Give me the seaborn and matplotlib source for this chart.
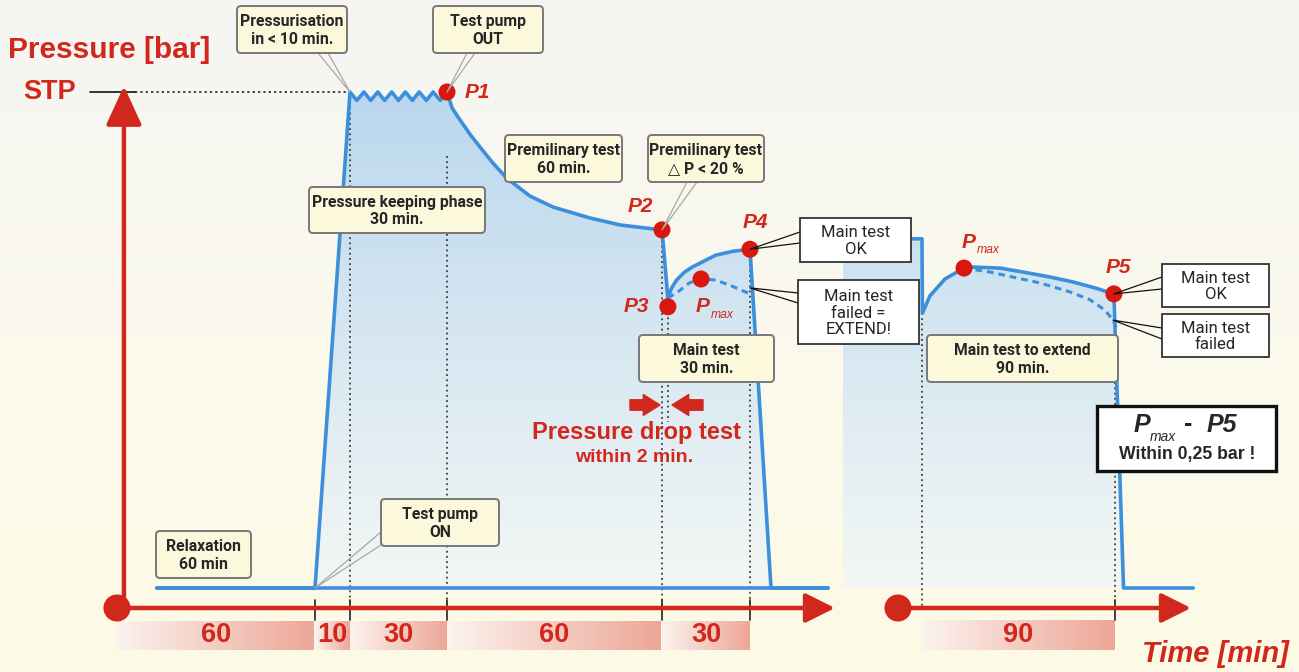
import numpy as np
import matplotlib.pyplot as plt
import seaborn as sns
from matplotlib.patches import FancyBboxPatch, Polygon, Rectangle
from matplotlib.colors import LinearSegmentedColormap

# ---- data: time in minutes, pressure relative to STP (1.0 = STP) ----
phase_minutes = [60, 10, 30, 60, 30]
phase_labels = ["60", "10", "30", "60", "30"]
ext_minutes = [90]
ext_labels = ["90"]

relax_t = [12, 60]
relax_p = [0.0, 0.0]
rise_t = [60, 70]
rise_p = [0.0, 1.0]
keep_t = [70, 72.1, 74.3, 76.4, 78.6, 80.7, 82.9, 85.0, 87.1, 89.3, 91.4, 93.6, 95.7, 97.9, 100]
keep_p = [1.0, 0.983, 1.0, 0.983, 1.0, 0.983, 1.0, 0.983, 1.0, 0.983, 1.0, 0.983, 1.0, 0.983, 1.0]
pre_t = [100, 101.4, 103.6, 106.4, 109.2, 112.8, 116.7, 123.2, 129.6, 139.9, 148.3, 154, 160]
pre_p = [1.0, 0.968, 0.944, 0.915, 0.889, 0.857, 0.826, 0.790, 0.768, 0.746, 0.732, 0.727, 0.722]
drop_t = [160, 162]
drop_p = [0.722, 0.585]
main_t = [162, 163.3, 165, 167.7, 170.3, 174.3, 178.3, 184.3, 190]
main_p = [0.585, 0.605, 0.621, 0.637, 0.647, 0.659, 0.671, 0.679, 0.683]
fail_t = [162, 165, 169.3, 173.3, 178.3, 183.7, 190]
fail_p = [0.585, 0.595, 0.615, 0.623, 0.621, 0.609, 0.593]
release_t = [190, 197, 216]
release_p = [0.683, 0.0, 0.0]

# extension: minutes from start of the extended main test
ext_t = [-6, 0, 0.2, 3.7, 10.7, 19.6, 23.8, 36.4, 47.1, 59.7, 70.4, 80.7, 89.5, 94, 126.5]
ext_p = [0.704, 0.704, 0.554, 0.589, 0.623, 0.645, 0.647, 0.645, 0.637, 0.627, 0.617, 0.605, 0.593, 0.0, 0.0]
ext_fail_t = [19.6, 31.7, 55.0, 69.0, 78.4, 85.4, 89.1, 91.0]
ext_fail_p = [0.645, 0.637, 0.615, 0.597, 0.581, 0.560, 0.540, 0.520]
ext_hold_t = -36.8

point_names = ["P1", "P2", "P3", "P4", "Pmax"]
point_t = [100, 160, 162, 190, 173.3]
point_p = [1.0, 0.722, 0.567, 0.683, 0.623]
ext_point_names = ["Pmax", "P5"]
ext_point_t = [19.6, 89.5]
ext_point_p = [0.645, 0.593]

# ---- layout ----
W, H = 1299, 672
# the sketch is not drawn to scale: piecewise time scale through the phase ticks
T_KNOTS = [-60, 0, 60, 70, 100, 160, 190, 420]
PX_KNOTS = [117 - 60 * 3.3, 117, 315, 350, 447, 662, 750, 750 + 230 * 3.0]
E0, ES = 922, 2.144     # pixel of t=0 and px per minute for the extension
Y0, YS = 588, 496       # pixel row of p=0 and px per STP
AXIS_P = (Y0 - 608) / YS
RED = '#d2271c'
DOT = '#d8170f'
BLUE = '#3b8fdb'
SANS = ['Liberation Sans', 'DejaVu Sans']
BOXFONT = ['Roboto', 'Liberation Sans', 'DejaVu Sans']

sns.set_style("white")
plt.rcParams['font.family'] = SANS

fig = plt.figure(figsize=(W / 100, H / 100), dpi=100)

bg = fig.add_axes([0, 0, 1, 1])
bg.axis('off')
vramp = np.linspace(0, 1, 256).reshape(-1, 1)
hramp = np.linspace(0, 1, 256).reshape(1, -1)
bg.imshow(vramp, cmap=LinearSegmentedColormap.from_list('bg', ['#f5f5f3', '#fbf9ec', '#fdfae5']),
          aspect='auto', extent=[0, 1, 0, 1])


def make_ax():
    a = fig.add_axes([0, 0, 1, 1])
    a.set_ylim((Y0 - H) / YS, Y0 / YS)
    a.axis('off')
    a.patch.set_alpha(0)
    return a


def t_fwd(t):
    return np.interp(t, T_KNOTS, PX_KNOTS)


def t_inv(x):
    return np.interp(x, PX_KNOTS, T_KNOTS)


ax = make_ax()
ax.set_xscale('function', functions=(t_fwd, t_inv))
ax.set_xlim(t_inv(0), t_inv(W))
ax2 = make_ax()
ax2.set_xlim(-E0 / ES, (W - E0) / ES)
ov = fig.add_axes([0, 0, 1, 1])
ov.set_xlim(0, W)
ov.set_ylim(H, 0)
ov.axis('off')
ov.patch.set_alpha(0)


def px(a, x, y):
    return ov.transData.inverted().transform(a.transData.transform((x, y)))


fill_cmap = LinearSegmentedColormap.from_list('fill', ['#bad7ee', '#f3f7f4'])
band_cmap = LinearSegmentedColormap.from_list('band', ['#fbf3ee', '#eda697'])


def blue_fill(a, xs, ys):
    poly = Polygon(np.column_stack([xs, ys]), closed=True, fc='none', ec='none')
    a.add_patch(poly)
    im = a.imshow(vramp, cmap=fill_cmap, aspect='auto', extent=[min(xs), max(xs), 0, 1.0],
                  zorder=1, interpolation='bilinear')
    im.set_clip_path(poly)


def dotted(a, t, top, bottom=AXIS_P):
    a.plot([t, t], [top, bottom], color='#222222', lw=1.1, ls=(0, (1.2, 2.2)), zorder=2)


def time_axis(a, start, end, bounds, labels):
    a.annotate('', xy=(end, AXIS_P), xytext=(start, AXIS_P),
               arrowprops=dict(arrowstyle='-|>,head_length=0.9,head_width=0.45', lw=3.2,
                               color=RED, mutation_scale=20, shrinkA=0, shrinkB=0), zorder=4)
    sns.scatterplot(x=[start], y=[AXIS_P], s=380, color=RED, edgecolor='none', ax=a, zorder=5)
    lo, hi = (Y0 - 650) / YS, (Y0 - 620) / YS
    for i, lab in enumerate(labels):
        a.imshow(hramp, cmap=band_cmap, aspect='auto', extent=[bounds[i], bounds[i + 1], lo, hi],
                 zorder=1, interpolation='bilinear')
        a.text((bounds[i] + bounds[i + 1]) / 2, (lo + hi) / 2, lab, color=RED, fontsize=19.5,
               fontweight='bold', ha='center', va='center', zorder=3)
    for b in bounds[1:]:
        a.plot([b, b], [(Y0 - 600) / YS, (Y0 - 620) / YS], color='#333333', lw=1.3, zorder=3)


# ---- first part ----
bounds = np.concatenate([[0], np.cumsum(phase_minutes)])
left_t = relax_t + rise_t[1:] + keep_t[1:] + pre_t[1:] + drop_t[1:] + main_t[1:] + release_t[1:]
left_p = relax_p + rise_p[1:] + keep_p[1:] + pre_p[1:] + drop_p[1:] + main_p[1:] + release_p[1:]
blue_fill(ax, left_t[1:-1], left_p[1:-1])
sns.lineplot(x=[relax_t[0], release_t[-1]], y=[0, 0], color=BLUE, lw=2.6, ax=ax, zorder=3)
sns.lineplot(x=left_t, y=left_p, sort=False, estimator=None, color=BLUE, lw=2.6, ax=ax, zorder=3)
sns.lineplot(x=fail_t, y=fail_p, sort=False, estimator=None, color=BLUE, lw=2.2,
             linestyle=(0, (2.2, 1.6)), ax=ax, zorder=3)

dotted(ax, rise_t[1], 0.99)
dotted(ax, pre_t[0], 0.87)
dotted(ax, drop_t[0], drop_p[0])
dotted(ax, drop_t[1], point_p[2], (Y0 - 422) / YS)
dotted(ax, main_t[-1], main_p[-1])

# y axis and STP
ax.annotate('', xy=(2.1, (Y0 - 86) / YS), xytext=(2.1, AXIS_P),
            arrowprops=dict(arrowstyle='-|>,head_length=1.2,head_width=0.55', lw=3.2,
                            color=RED, mutation_scale=20, shrinkA=0, shrinkB=0), zorder=4)
ax.plot([-8.2, 5.5], [1.0, 1.0], color='#111111', lw=1.2, zorder=3)
ax.plot([5.5, rise_t[1]], [1.0, 1.0], color='#111111', lw=1.1, ls=(0, (1.5, 2)), zorder=2)

time_axis(ax, 0, t_inv(835), bounds, phase_labels)
sns.scatterplot(x=point_t, y=point_p, s=150, color=DOT, edgecolor='none', ax=ax, zorder=6)

# ---- extension ----
ebounds = np.concatenate([[0], np.cumsum(ext_minutes)])
blue_fill(ax2, [ext_hold_t] + ext_t[:14] + [ext_hold_t], [ext_p[0]] + ext_p[:14] + [0.0])
sns.lineplot(x=ext_t, y=ext_p, sort=False, estimator=None, color=BLUE, lw=2.6, ax=ax2, zorder=3)
sns.lineplot(x=ext_fail_t, y=ext_fail_p, sort=False, estimator=None, color=BLUE, lw=2.2,
             linestyle=(0, (2.2, 1.6)), ax=ax2, zorder=3)
dotted(ax2, ebounds[0], ext_p[2])
dotted(ax2, ebounds[1], ext_point_p[1])
time_axis(ax2, (898 - E0) / ES, (1191 - E0) / ES, ebounds, ext_labels)
sns.scatterplot(x=ext_point_t, y=ext_point_p, s=150, color=DOT, edgecolor='none', ax=ax2, zorder=6)


# ---- annotations (overlay in pixels) ----
def cream(x0, y0, x1, y1, text, fs=11.3):
    ov.add_patch(FancyBboxPatch((x0, y0), x1 - x0, y1 - y0, boxstyle='round,pad=0,rounding_size=4',
                                fc='#fbf8dc', ec='#777777', lw=1.4, zorder=6))
    ov.text((x0 + x1) / 2, (y0 + y1) / 2 + 1, text, ha='center', va='center', fontsize=fs,
            fontweight='bold', family=BOXFONT, linespacing=1.25, zorder=7)


def white(x0, y0, x1, y1, text, fs=12):
    ov.add_patch(Rectangle((x0, y0), x1 - x0, y1 - y0, fc='white', ec='#333333', lw=1.3, zorder=6))
    ov.text((x0 + x1) / 2, (y0 + y1) / 2 + 1, text, ha='center', va='center', fontsize=fs,
            family=BOXFONT, linespacing=1.1, zorder=7)


def wedge(p, a, b, color):
    ov.plot([a[0], p[0], b[0]], [a[1], p[1], b[1]], color=color, lw=0.9, zorder=5)


def plabel(p, dx, dy, text, fs=15):
    ov.text(p[0] + dx, p[1] + dy, text, color=RED, fontsize=fs, fontweight='bold',
            fontstyle='italic', ha='center', va='center', zorder=7)


def pmax(x, y, fs=15):
    ov.text(x, y, "P", color=RED, fontsize=fs, fontweight='bold', fontstyle='italic',
            ha='center', va='center', zorder=7)
    ov.text(x + 8, y + 8, "max", color=RED, fontsize=fs * 0.58, fontstyle='italic',
            ha='left', va='center', zorder=7)


P = [px(ax, t, p) for t, p in zip(point_t, point_p)]
EP = [px(ax2, t, p) for t, p in zip(ext_point_t, ext_point_p)]

wedge(px(ax, rise_t[1], 1.0), (318, 53), (328, 53), '#a8a8a8')
wedge(P[0], (467, 53), (475, 53), '#a8a8a8')
wedge(P[1], (687, 182), (697, 182), '#a8a8a8')
wedge(px(ax, rise_t[0], 0.0), (381, 532), (381, 545), '#a8a8a8')
wedge(P[3], (800, 232), (800, 243), '#111111')
wedge(px(ax, fail_t[-1], 0.605), (798, 293), (798, 303), '#111111')
wedge(EP[1], (1162, 277), (1162, 289), '#111111')
wedge(px(ax2, ext_fail_t[-2], ext_fail_p[-2]), (1162, 328), (1162, 339), '#111111')

cream(237, 6, 347, 53, "Pressurisation\nin < 10 min.")
cream(433, 6, 543, 53, "Test pump\nOUT")
cream(505, 135, 622, 182, "Premilinary test\n60 min.")
cream(648, 135, 764, 182, "Premilinary test\n\u25b3 P < 20 %")
cream(309, 187, 485, 233, "Pressure keeping phase\n30 min.")
cream(639, 335, 774, 382, "Main test\n30 min.")
cream(927, 335, 1118, 382, "Main test to extend\n90 min.")
cream(381, 499, 499, 546, "Test pump\nON")
cream(156, 531, 251, 578, "Relaxation\n60 min")

white(800, 218, 911, 262, "Main test\nOK")
white(798, 280, 919, 344, "Main test\nfailed =\nEXTEND!")
white(1162, 264, 1269, 307, "Main test\nOK")
white(1162, 314, 1269, 357, "Main test\nfailed")

plabel(P[0], 30, 0, "P1")
plabel(P[1], -22, -23, "P2")
plabel(P[2], -31, 0, "P3")
plabel(P[3], 5, -27, "P4")
plabel(EP[1], 4, -26, "P5")
pmax(P[4][0] + 2, P[4][1] + 28)
pmax(EP[0][0] + 5, EP[0][1] - 26)

# result box
ov.add_patch(Rectangle((1097, 406), 179, 65, fc='white', ec='#111111', lw=2.4, zorder=6))
ov.text(1142, 425, "P", fontsize=18, fontweight='bold', fontstyle='italic', ha='center',
        va='center', zorder=7)
ov.text(1150, 437, "max", fontsize=10, fontstyle='italic', ha='left', va='center', zorder=7)
ov.text(1188, 424, "-", fontsize=18, fontweight='bold', ha='center', va='center', zorder=7)
ov.text(1222, 425, "P5", fontsize=18, fontweight='bold', fontstyle='italic', ha='center',
        va='center', zorder=7)
ov.text(1187, 455, "Within 0,25 bar !", fontsize=12.7, fontweight='bold', ha='center',
        va='center', zorder=7)

# pressure drop test
for a, b in [((630, 405), (660, 405)), ((703, 405), (672, 405))]:
    ov.annotate('', xy=b, xytext=a, arrowprops=dict(
        arrowstyle='simple,head_length=0.8,head_width=1.0,tail_width=0.5', color=RED,
        mutation_scale=15, shrinkA=0, shrinkB=0), zorder=7)
ov.text(637, 433, "Pressure drop test", color=RED, fontsize=17, fontweight='bold',
        ha='center', va='center', zorder=7)
ov.text(634, 458, "within 2 min.", color=RED, fontsize=14, fontweight='bold',
        ha='center', va='center', zorder=7)

ov.text(8, 50, "Pressure [bar]", color=RED, fontsize=21.5, fontweight='bold', ha='left',
        va='center', zorder=7)
ov.text(50, 92, "STP", color=RED, fontsize=19.5, fontweight='bold', ha='center', va='center',
        zorder=7)
ov.text(1215, 654, "Time [min]", color=RED, fontsize=21, fontweight='bold', fontstyle='italic',
        ha='center', va='center', zorder=7)

fig.savefig("out.png", dpi=100)
